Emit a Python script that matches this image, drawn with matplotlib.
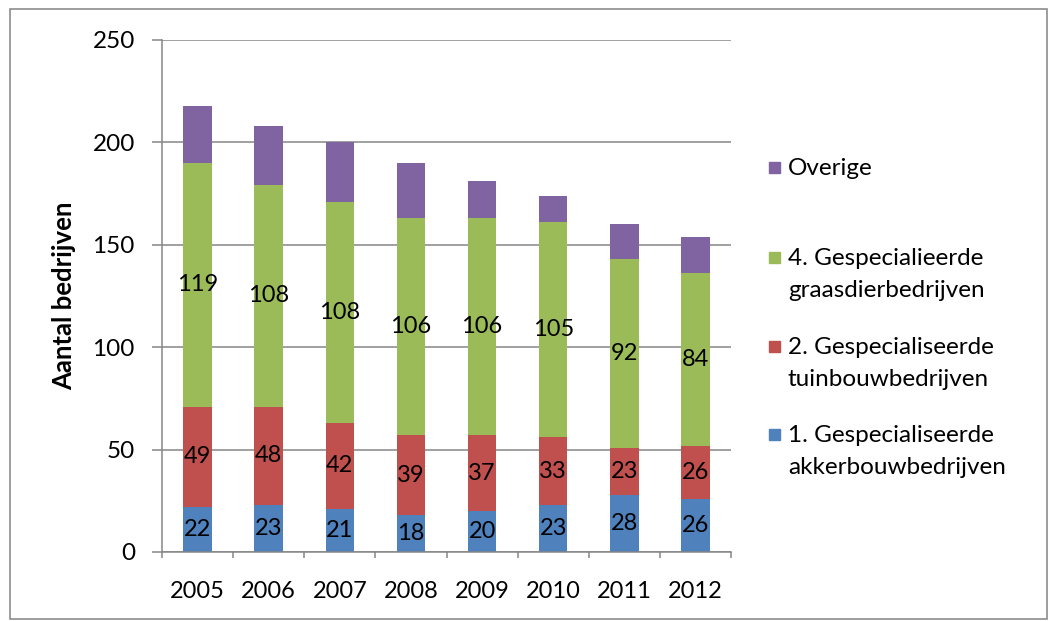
import numpy as np
import matplotlib.pyplot as plt
from matplotlib.patches import Rectangle

plt.rcParams['font.family'] = ['Lato', 'DejaVu Sans']

# data
years = ['2005', '2006', '2007', '2008', '2009', '2010', '2011', '2012']
akkerbouw = [22, 23, 21, 18, 20, 23, 28, 26]
tuinbouw = [49, 48, 42, 39, 37, 33, 23, 26]
graasdier = [119, 108, 108, 106, 106, 105, 92, 84]
overige = [28, 29, 29, 27, 18, 13, 17, 18]

series = [
    ('1. Gespecialiseerde\nakkerbouwbedrijven', akkerbouw, '#4F81BD', True),
    ('2. Gespecialiseerde\ntuinbouwbedrijven', tuinbouw, '#C0504D', True),
    ('4. Gespecialieerde\ngraasdierbedrijven', graasdier, '#9BBB59', True),
    ('Overige', overige, '#8064A2', False),
]

W, H = 1049, 621
fig = plt.figure(figsize=(W / 100, H / 100), dpi=100)
ax = fig.add_axes([162 / W, 69 / H, 569 / W, 512 / H])

x = np.arange(len(years))
bottom = np.zeros(len(years))
for name, vals, col, lab in series:
    vals = np.array(vals, dtype=float)
    bars = ax.bar(x, vals, 0.4, bottom=bottom, color=col, zorder=2)
    if lab:
        ax.bar_label(bars, labels=[str(int(v)) for v in vals], label_type='center',
                     fontsize=17, color='black')
    bottom += vals

ax.set_xlim(-0.5, len(years) - 0.5)
ax.set_ylim(0, 250)
ax.set_yticks(np.arange(0, 251, 50))
ax.yaxis.grid(True, color='#868686', linewidth=1.1, zorder=0)
ax.set_axisbelow(True)

ax.set_xticks(x)
ax.set_xticklabels(years)
ax.set_xticks(np.arange(-0.5, len(years)), minor=True)
ax.tick_params(axis='x', which='major', length=0, pad=21, labelsize=17)
ax.tick_params(axis='x', which='minor', length=4, color='#868686', width=1.1)
ax.tick_params(axis='y', length=7.5, color='#868686', width=1.1, pad=12, labelsize=17.5)

for s in ['top', 'right']:
    ax.spines[s].set_visible(False)
for s in ['left', 'bottom']:
    ax.spines[s].set_color('#868686')
    ax.spines[s].set_linewidth(1.1)

ax.set_ylabel('Aantal bedrijven', fontsize=18.5, fontweight='bold', labelpad=12)

# legend, drawn by hand (Excel style: marker aligned to first line)
leg_y = [168, 258, 347, 435]
for (name, vals, col, lab), yy in zip(series[::-1], leg_y):
    fig.patches.append(Rectangle((769 / W, 1 - (yy + 5) / H), 11 / W, 11 / H,
                                 transform=fig.transFigure, color=col))
    fig.text(788 / W, 1 - (yy - 10) / H, name, fontsize=17.5, va='top', ha='left',
             linespacing=1.62)

# outer frame
fig.patches.append(Rectangle((10 / W, 2 / H), 1037 / W, 610 / H, transform=fig.transFigure,
                             fill=False, edgecolor='#8c8c8c', linewidth=1.2))

fig.savefig('out.png', dpi=100)
